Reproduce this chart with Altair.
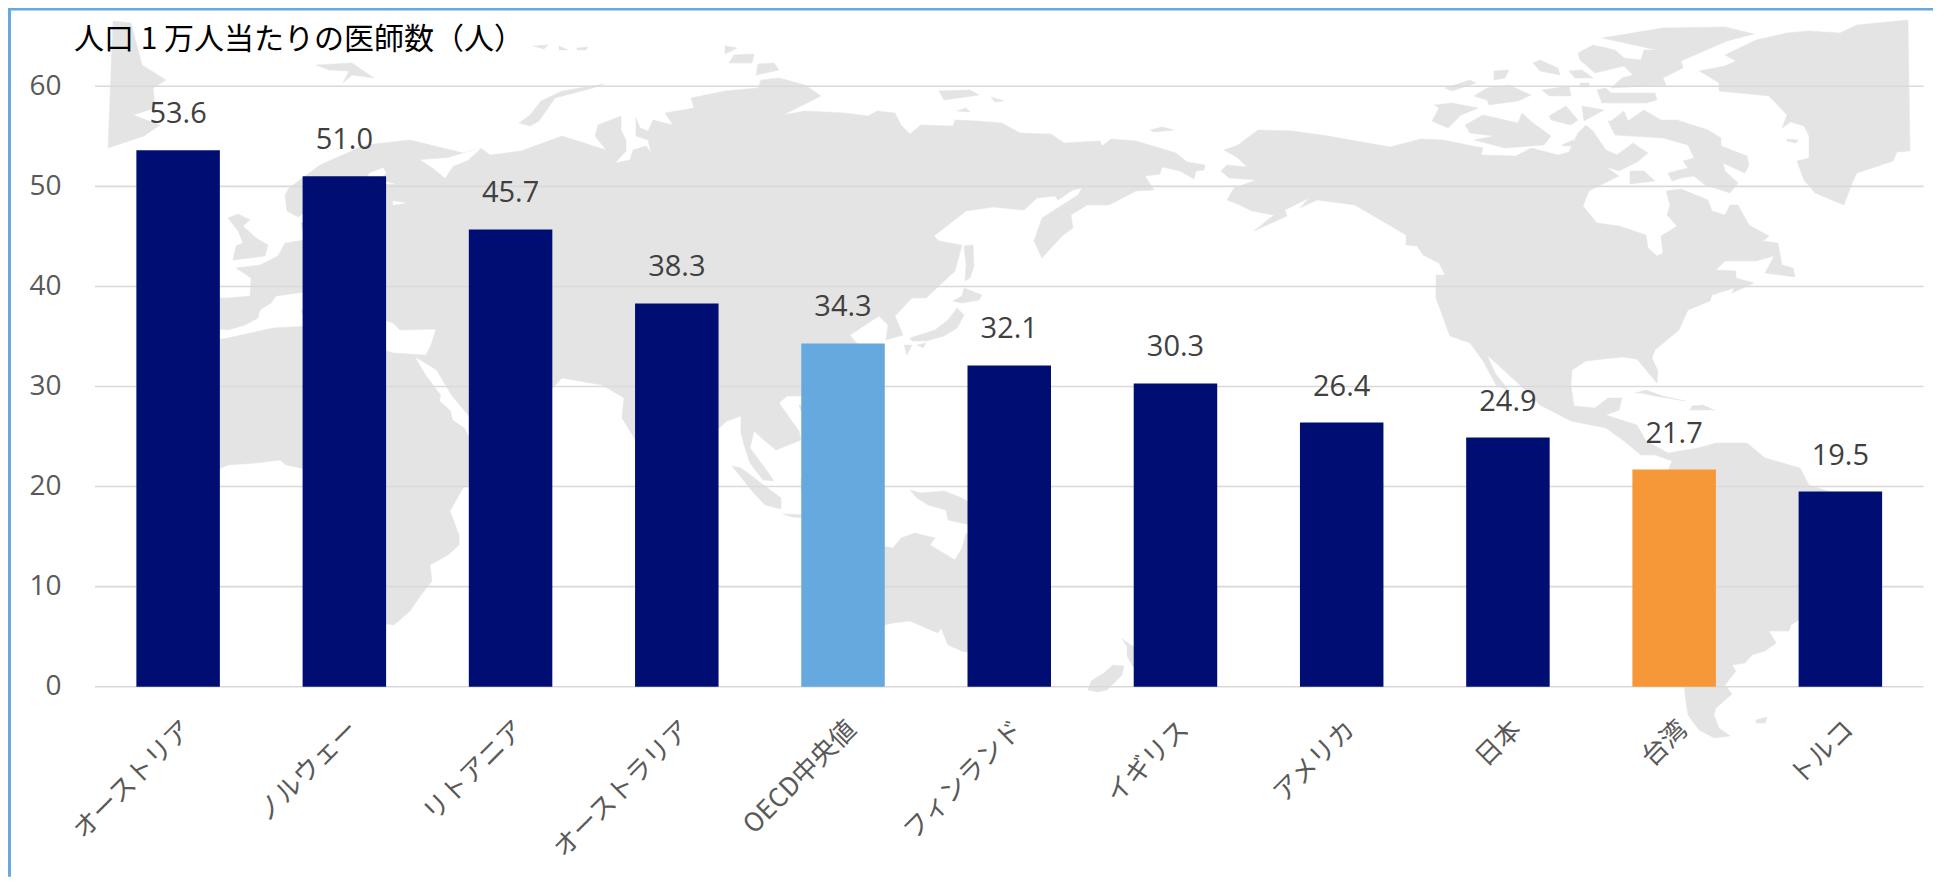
import altair as alt

# ---------- chart values ----------
CATEGORIES = ["オーストリア", "ノルウェー", "リトアニア", "オーストラリア", "OECD中央値",
              "フィンランド", "イギリス", "アメリカ", "日本", "台湾", "トルコ"]
VALUES = [53.6, 51.0, 45.7, 38.3, 34.3, 32.1, 30.3, 26.4, 24.9, 21.7, 19.5]
GROUPS = ["国", "国", "国", "国", "OECD", "国", "国", "国", "国", "台湾", "国"]
Y_TICKS = [0, 10, 20, 30, 40, 50, 60]
TITLE = "人口 1 万人当たりの医師数（人）"

# ---------- backdrop world map outlines ----------
GREENLAND_W = [[100,140],[105,13],[123,15],[134,57],[158,72],[145,80],[147,100],[125,107],[152,117],[136,128]]
ICELAND = [[131,160],[140,156],[180,165],[140,172]]
SVALBARD = [[308,57],[344,55],[366,70],[344,67],[335,75],[341,63],[321,62]]
FJL1 = [[525,38],[540,37],[536,41]]
FJL2 = [[551,38],[560,42],[551,42]]
FJL3 = [[569,40],[580,39],[578,42],[569,42]]
NOVAYA = [[596,76],[554,83],[533,93],[522,107],[511,115],[522,118],[531,113],[547,90],[585,80]]
BRITAIN = [[220,210],[230,206],[242,212],[235,218],[248,230],[260,237],[257,248],[242,250],[225,252],[228,238],[235,235],[230,223]]
AFROEURASIA = [
    [277,187],[281,180],[312,157],[357,137],[402,132],[455,145],[473,140],[482,147],[513,143],[554,128],
    [598,142],[587,128],[590,117],[613,108],[613,122],[618,132],[618,143],[607,155],[622,152],[625,142],
    [638,138],[643,145],[640,132],[628,128],[628,110],[632,120],[640,123],[645,112],[665,117],[657,105],
    [686,100],[683,90],[717,83],[750,80],[753,72],[771,70],[797,77],[813,88],[775,107],[797,103],[837,105],
    [860,108],[869,103],[887,105],[893,117],[902,126],[913,117],[945,118],[947,112],[969,113],[994,115],
    [1012,125],[1043,126],[1056,135],[1092,133],[1094,138],[1103,131],[1128,133],[1168,145],[1179,154],
    [1197,157],[1196,162],[1188,163],[1186,171],[1172,163],[1154,159],[1152,166],[1137,168],[1146,182],
    [1128,183],[1101,197],[1079,197],[1063,207],[1065,220],[1054,228],[1034,250],[1026,233],[1034,210],
    [1070,187],[1074,180],[1065,182],[1050,192],[1047,188],[1029,190],[1016,202],[985,199],[958,203],
    [926,228],[931,233],[954,237],[947,263],[918,290],[904,290],[887,308],[895,327],[878,332],[880,317],
    [871,308],[842,327],[855,343],[840,380],[797,388],[779,388],[771,395],[791,423],[793,432],[768,442],
    [757,433],[746,423],[742,440],[757,460],[766,473],[755,472],[742,455],[737,440],[733,425],[733,408],
    [719,413],[700,430],[680,450],[634,443],[614,410],[616,390],[594,377],[554,370],[540,385],[510,440],
    [469,472],[455,480],[442,503],[451,527],[451,537],[440,547],[422,557],[424,573],[413,587],[402,603],
    [386,617],[340,610],[310,500],[302,462],[278,457],[272,452],[248,455],[220,457],[190,470],[175,400],
    [160,360],[190,335],[220,330],[238,326],[265,320],[302,318],[385,345],[418,347],[423,337],[428,321],
    [392,322],[385,315],[302,286],[297,284],[268,288],[263,295],[252,302],[250,310],[237,317],[220,322],
    [200,320],[200,290],[220,290],[242,288],[243,270],[228,260],[245,258],[252,257],[270,248],[277,235],
    [297,232],[293,215],[302,212],[320,205],[303,200],[290,209],[279,203],
]
MADAGASCAR = [[475,545],[465,570],[475,590],[500,570],[500,540]]
CORSICA = [[295,291],[299,291],[299,296],[295,296]]
SARDINIA = [[293,302],[300,302],[300,310],[296,310]]
HONSHU = [[949,300],[956,307],[949,320],[936,328],[918,333],[904,333],[902,330],[927,322],[940,312]]
HOKKAIDO = [[956,280],[974,287],[971,292],[954,295],[945,293],[954,288]]
SAKHALIN = [[956,238],[965,237],[966,258],[962,270],[957,273],[958,257]]
KYUSHU = [[896,337],[904,337],[899,347]]
SHIKOKU = [[909,337],[918,335],[915,340]]
HAINAN = [[791,397],[797,397],[793,403]]
SIB1 = [[717,38],[729,40],[717,46]]
SIB2 = [[726,47],[746,46],[744,55],[721,55]]
SIB3 = [[750,56],[766,55],[771,62],[748,67]]
SIB4 = [[931,83],[962,82],[971,87],[936,92]]
SIB5 = [[983,89],[996,93],[987,94]]
SIB6 = [[949,103],[958,100],[962,104]]
SIB7 = [[1142,122],[1154,119],[1166,122],[1146,124]]
SUMATRA = [[724,458],[733,460],[773,490],[773,501],[757,497],[744,483]]
JAVA = [[775,506],[801,507],[801,510],[784,509]]
BORNEO = [[793,470],[801,468],[830,470],[830,490],[801,490],[793,483]]
NEW_GUINEA = [[902,482],[913,485],[936,483],[954,490],[968,498],[1000,520],[968,515],[958,516],[940,512],[938,502],[920,497],[909,490]]
AUSTRALIA = [[885,540],[893,530],[907,525],[927,530],[922,537],[947,552],[954,540],[958,525],[968,537],[1000,600],
             [1000,650],[968,643],[956,644],[940,637],[933,620],[930,625],[918,620],[902,613],[885,615],[820,630],
             [810,590],[830,550],[860,535]]
NZ_N = [[1114,631],[1123,637],[1134,642],[1134,653],[1125,659],[1119,648],[1119,638]]
NZ_S = [[1105,657],[1116,658],[1114,667],[1099,682],[1090,684],[1080,682],[1083,673],[1096,665]]
AMERICAS = [
    [1250,122],[1285,123],[1320,128],[1382,139],[1413,131],[1435,132],[1475,140],[1473,147],[1508,148],
    [1523,140],[1550,147],[1561,144],[1570,125],[1578,117],[1585,123],[1598,142],[1609,147],[1625,135],
    [1640,145],[1629,154],[1611,163],[1598,159],[1611,168],[1581,183],[1575,198],[1589,215],[1611,218],
    [1638,227],[1640,240],[1649,248],[1655,245],[1653,228],[1669,218],[1659,207],[1662,197],[1658,183],
    [1673,181],[1700,192],[1704,203],[1717,207],[1722,197],[1730,197],[1741,217],[1761,228],[1755,233],
    [1770,235],[1774,257],[1785,260],[1787,269],[1757,265],[1766,248],[1748,253],[1717,253],[1708,262],
    [1728,263],[1728,270],[1746,275],[1724,285],[1726,280],[1704,287],[1702,293],[1680,302],[1671,322],
    [1647,342],[1644,350],[1650,363],[1649,375],[1638,362],[1629,351],[1614,349],[1578,353],[1564,362],
    [1563,377],[1566,398],[1587,400],[1600,390],[1614,390],[1611,402],[1598,407],[1629,417],[1638,433],
    [1660,445],[1690,440],[1708,435],[1739,435],[1757,450],[1792,460],[1801,477],[1832,487],[1870,500],
    [1850,560],[1799,607],[1783,617],[1781,623],[1761,623],[1768,635],[1757,643],[1744,647],[1737,655],
    [1724,657],[1728,663],[1717,677],[1724,686],[1708,700],[1706,707],[1711,720],[1722,728],[1706,730],
    [1691,722],[1680,707],[1677,687],[1675,640],[1660,560],[1645,500],[1658,468],[1664,453],[1647,447],
    [1633,447],[1616,433],[1598,420],[1563,413],[1532,397],[1523,387],[1479,347],[1487,365],[1501,383],
    [1488,377],[1475,353],[1462,335],[1442,328],[1440,323],[1428,290],[1428,267],[1437,267],[1431,255],
    [1415,247],[1409,238],[1398,237],[1398,227],[1347,197],[1309,192],[1292,200],[1301,190],[1277,202],
    [1279,208],[1246,223],[1266,207],[1244,203],[1232,197],[1219,192],[1226,180],[1248,172],[1221,170],
    [1213,163],[1219,157],[1239,159],[1230,150],[1216,142],[1230,137],
]
BAFFIN = [[1603,113],[1616,103],[1620,113],[1636,102],[1653,112],[1669,112],[1700,122],[1713,130],[1713,138],
          [1739,148],[1741,157],[1737,165],[1715,155],[1717,163],[1730,175],[1722,185],[1697,177],[1686,168],
          [1673,170],[1664,173],[1660,165],[1680,160],[1675,153],[1686,150],[1680,137],[1655,130],[1607,127],[1600,113]]
SOUTHAMPTON = [[1622,163],[1636,163],[1647,173],[1622,176]]
VICTORIA = [[1457,117],[1475,107],[1510,115],[1514,105],[1525,115],[1543,128],[1536,137],[1497,140],[1466,132],[1486,128],[1462,125]]
BANKS = [[1424,113],[1431,100],[1426,97],[1444,95],[1470,100],[1453,107],[1440,120]]
PRINCE_WALES = [[1541,108],[1558,98],[1570,112],[1563,117],[1543,112]]
SOMERSET = [[1574,98],[1596,102],[1576,113]]
KING_WILLIAM = [[1554,137],[1565,132],[1570,138],[1556,138]]
MELVILLE = [[1466,88],[1479,80],[1501,77],[1523,87],[1510,93],[1481,97],[1479,92]]
BATHURST = [[1534,82],[1561,78],[1563,88],[1541,88]]
DEVON = [[1589,82],[1598,80],[1603,85],[1647,85],[1649,92],[1638,95],[1594,95]]
CORNWALLIS = [[1572,75],[1581,75],[1581,79],[1572,79]]
ELLESMERE = [[1570,45],[1585,37],[1607,42],[1616,50],[1633,52],[1636,42],[1649,42],[1594,30],[1655,20],[1717,19],
             [1746,26],[1719,33],[1673,53],[1675,60],[1655,70],[1658,77],[1603,80],[1614,70],[1625,67],[1616,58],
             [1587,65],[1572,52]]
AXEL = [[1525,55],[1532,52],[1550,60],[1552,67],[1532,63]]
AMUND = [[1486,63],[1501,62],[1497,70],[1486,72]]
BROCK = [[1437,80],[1462,72],[1468,75],[1444,83]]
GRAHAM = [[1561,63],[1574,62],[1585,70],[1567,70]]
GREENLAND_E = [[1691,63],[1717,58],[1728,53],[1717,47],[1748,32],[1779,25],[1801,23],[1832,25],[1849,17],[1900,12],
               [1902,143],[1889,144],[1885,153],[1849,165],[1845,173],[1836,197],[1807,185],[1796,172],[1789,153],
               [1801,150],[1801,128],[1796,118],[1783,114],[1774,120],[1779,107],[1761,88],[1711,83],[1711,75],[1700,68]]
DISKO = [[1779,131],[1790,132],[1788,135],[1779,133]]
CUBA = [[1627,385],[1638,382],[1655,388],[1677,393],[1647,388],[1633,385]]
HISPANIOLA = [[1684,398],[1695,397],[1706,402],[1682,402]]
FALKLAND = [[1748,712],[1759,709],[1757,715],[1748,715]]

RED_SEA = [[408,350],[428,362],[443,387],[462,410],[468,433],[463,433],[457,420],[445,412],[443,403],[432,393],[433,387],[418,367]]
WHITE_SEA = [[413,152],[440,150],[473,140],[460,152],[445,158],[437,170],[425,160]]
BALTIC = [[355,175],[362,165],[375,160],[378,165],[370,172],[386,176]]
AZOV = [[385,193],[397,195],[385,197]]
ADEN = [[458,480],[468,473],[470,482]]

LAND = [GREENLAND_W, ICELAND, SVALBARD, FJL1, FJL2, FJL3, NOVAYA, BRITAIN, AFROEURASIA, MADAGASCAR, CORSICA, SARDINIA,
        HONSHU, HOKKAIDO, SAKHALIN, KYUSHU, SHIKOKU, HAINAN, SIB1, SIB2, SIB3, SIB4, SIB5, SIB6, SIB7,
        SUMATRA, JAVA, BORNEO, NEW_GUINEA, AUSTRALIA, NZ_N, NZ_S, AMERICAS, BAFFIN, SOUTHAMPTON, VICTORIA, BANKS,
        PRINCE_WALES, SOMERSET, KING_WILLIAM, MELVILLE, BATHURST, DEVON, CORNWALLIS, ELLESMERE, AXEL, AMUND, BROCK,
        GRAHAM, GREENLAND_E, DISKO, CUBA, HISPANIOLA, FALKLAND]
SEAS = [RED_SEA, WHITE_SEA, BALTIC, AZOV, ADEN]


def features(rings):
    return [{"type": "Feature", "properties": {},
             "geometry": {"type": "Polygon", "coordinates": [r + [r[0]]]}} for r in rings]


# ---------- layout ----------
PLOT_W, PLOT_H = 1828.5, 600.4
PAD_L, PAD_T = 87, 78.3
FONT_JP = "Noto Sans CJK JP"
FONT_NUM = "Open Sans"

rows = [{"cat": c, "val": v, "grp": g} for c, v, g in zip(CATEGORIES, VALUES, GROUPS)]
base = alt.Chart(alt.Data(values=rows))
proj = dict(type="identity", scale=1, translate=[-PAD_L, -PAD_T])

land = alt.Chart(alt.Data(values=features(LAND))).mark_geoshape(
    fill="#E4E4E4", stroke="#E4E4E4", strokeWidth=0.5, clip=False).project(**proj)
seas = alt.Chart(alt.Data(values=features(SEAS))).mark_geoshape(
    fill="#FFFFFF", stroke="#FFFFFF", strokeWidth=0.5, clip=False).project(**proj)

y_scale = alt.Scale(domain=[0, 60], nice=False)
y_axis = alt.Axis(values=Y_TICKS, grid=False, domain=False, ticks=False, title=None,
                  labelFont=FONT_NUM, labelFontSize=28, labelColor="#595959", labelPadding=34)

grid = alt.Chart(alt.Data(values=[{"t": t} for t in Y_TICKS])).mark_rule(color="#D9D9D9", strokeWidth=1.6).encode(
    y=alt.Y("t:Q", scale=y_scale, axis=y_axis),
)

bars = base.mark_bar(size=83.5).encode(
    x=alt.X("cat:N", sort=CATEGORIES,
            scale=alt.Scale(paddingInner=0.5, paddingOuter=0.25),
            axis=alt.Axis(title=None, labelAngle=315, labelFont=FONT_JP, labelFontSize=26, labelColor="#595959",
                          labelPadding=29, domain=False, ticks=False, labelLimit=400, grid=False)),
    y=alt.Y("val:Q", scale=y_scale, axis=y_axis),
    color=alt.Color("grp:N", scale=alt.Scale(domain=["国", "OECD", "台湾"], range=["#000E73", "#65A9DE", "#F79838"]), legend=None),
)

labels = base.mark_text(font=FONT_NUM, fontSize=29, color="#404040", dy=-36).encode(
    x=alt.X("cat:N", sort=CATEGORIES),
    y=alt.Y("val:Q", scale=y_scale, axis=y_axis),
    text=alt.Text("val:Q", format=".1f"),
)

one = alt.Data(values=[{"k": 1}])
title_text = alt.Chart(alt.Data(values=[{"title": TITLE}])).mark_text(
    font=FONT_JP, fontSize=30, color="#000000", align="left", baseline="middle"
).encode(x=alt.value(-21), y=alt.value(-46), text="title:N")
banner = alt.Chart(one).mark_rect(color="#65A9DE").encode(
    x=alt.value(-PAD_L), x2=alt.value(PLOT_W + 10), y=alt.value(-PAD_T), y2=alt.value(-PAD_T + 2.5))
left_edge = alt.Chart(one).mark_rect(color="#65A9DE").encode(
    x=alt.value(-PAD_L), x2=alt.value(-PAD_L + 3), y=alt.value(-PAD_T), y2=alt.value(PLOT_H + 190))

chart = alt.layer(land, seas, grid, bars, labels, title_text, banner, left_edge).properties(
    width=PLOT_W, height=PLOT_H,
    padding={"left": PAD_L, "top": PAD_T, "right": 9.5, "bottom": 190},
    autosize=alt.AutoSizeParams(type="none"),
    background="#FFFFFF",
).configure_view(stroke=None)

chart.save("out.html", embed_options={"renderer": "svg", "actions": False})
